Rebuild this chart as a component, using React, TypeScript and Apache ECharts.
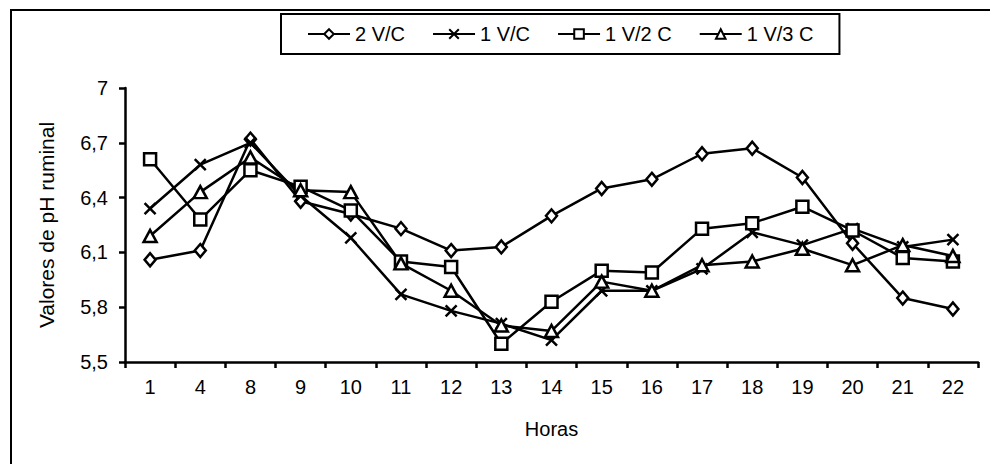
import React, { useEffect, useRef } from "react";
import * as echarts from "echarts";

const hours = ["1", "4", "8", "9", "10", "11", "12", "13", "14", "15", "16", "17", "18", "19", "20", "21", "22"];
const seriesNames = ["2 V/C", "1 V/C", "1 V/2 C", "1 V/3 C"];
const s2VC = [6.06, 6.11, 6.72, 6.38, 6.31, 6.23, 6.11, 6.13, 6.30, 6.45, 6.50, 6.64, 6.67, 6.51, 6.15, 5.85, 5.79];
const s1VC = [6.34, 6.58, 6.70, 6.41, 6.18, 5.87, 5.78, 5.71, 5.62, 5.89, 5.89, 6.01, 6.21, 6.14, 6.23, 6.13, 6.17];
const s1V2C = [6.61, 6.28, 6.55, 6.46, 6.33, 6.05, 6.02, 5.60, 5.83, 6.00, 5.99, 6.23, 6.26, 6.35, 6.22, 6.07, 6.05];
const s1V3C = [6.19, 6.43, 6.62, 6.44, 6.43, 6.04, 5.89, 5.70, 5.67, 5.94, 5.89, 6.03, 6.05, 6.12, 6.03, 6.14, 6.08];
const yMin = 5.5;
const yMax = 7;
const yStep = 0.3;

const FONT = "'Liberation Sans', Arial, sans-serif";

export default function App() {
  const ref = useRef<HTMLDivElement>(null);
  useEffect(() => {
    if (!ref.current) return;
    const chart = echarts.init(ref.current, null, { renderer: "svg" });
    const symbolStyle = { color: "#fff", borderColor: "#000", borderWidth: 2.5 };
    const mk = (name: string, data: number[], symbol: string, size: number | number[]) => ({
      name,
      type: "line",
      data,
      symbol,
      symbolSize: size,
      showAllSymbol: true,
      lineStyle: { color: "#000", width: 2.5 },
      itemStyle: symbolStyle,
      z: 2,
    });
    chart.setOption({
      animation: false,
      backgroundColor: "#fff",
      textStyle: { fontFamily: FONT, color: "#000" },
      graphic: [
        {
          type: "rect",
          shape: { x: 11, y: 10, width: 1000, height: 480 },
          style: { fill: "none", stroke: "#000", lineWidth: 2 },
          silent: true,
        },
      ],
      legend: {
        left: 281,
        top: 14,
        padding: [10, 26, 10, 26],
        borderColor: "#000",
        borderWidth: 2,
        itemWidth: 42,
        itemHeight: 12,
        itemGap: 27,
        textStyle: { fontFamily: FONT, fontSize: 20, color: "#000" },
        data: seriesNames,
      },
      grid: { left: 125, right: 12, top: 88, bottom: 102, containLabel: false },
      xAxis: {
        type: "category",
        data: hours,
        boundaryGap: true,
        name: "Horas",
        nameLocation: "middle",
        nameGap: 57,
        nameTextStyle: { fontFamily: FONT, fontSize: 20, color: "#000" },
        axisLine: { lineStyle: { color: "#000", width: 2.5 } },
        axisTick: { show: true, length: 6, inside: false, lineStyle: { color: "#000", width: 2.5 } },
        axisLabel: { fontFamily: FONT, fontSize: 20, color: "#000", margin: 15 },
        splitLine: { show: false },
      },
      yAxis: {
        type: "value",
        min: yMin,
        max: yMax,
        interval: yStep,
        name: "Valores de pH ruminal",
        nameLocation: "middle",
        nameGap: 68,
        nameTextStyle: { fontFamily: FONT, fontSize: 21, color: "#000" },
        axisLine: { show: true, lineStyle: { color: "#000", width: 2.5 } },
        axisTick: { show: true, length: 6, lineStyle: { color: "#000", width: 2.5 } },
        axisLabel: {
          fontFamily: FONT,
          fontSize: 20,
          color: "#000",
          margin: 17,
          formatter: (v: number) => String(Math.round(v * 10) / 10).replace(".", ","),
        },
        splitLine: { show: false },
      },
      series: [
        mk(seriesNames[0], s2VC, "diamond", [11, 13]),
        mk(seriesNames[1], s1VC, "path://M0,0L10,10M10,0L0,10", 11),
        mk(seriesNames[2], s1V2C, "rect", 12),
        mk(seriesNames[3], s1V3C, "triangle", [13, 12]),
      ],
    });
    return () => chart.dispose();
  }, []);
  return (
    <div
      ref={ref}
      style={{ position: "fixed", left: 0, top: 0, width: 990, height: 464, background: "#fff" }}
    />
  );
}
